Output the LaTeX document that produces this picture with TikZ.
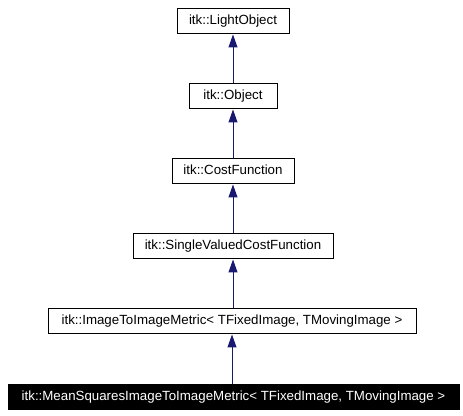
\documentclass[tikz,border=0pt]{standalone}
\usepackage{fontspec}
\setmainfont{Liberation Sans}
\usetikzlibrary{arrows.meta}
\definecolor{edgeblue}{RGB}{25,25,112}
\begin{document}
\begin{tikzpicture}[x=1pt,y=1pt,
  cls/.style={draw=black, line width=1pt, fill=white, minimum height=25pt,
    inner xsep=0pt, inner ysep=0pt, font=\fontsize{13.3}{15}\selectfont,
    text height=9.6pt, text depth=2.6pt, anchor=center},
  cur/.style={cls, fill=black, text=white},
  inh/.style={draw=edgeblue, line width=1pt, -{Triangle[length=13pt,width=9pt]}}
]
\useasboundingbox (0,0) rectangle (463,415);
\node[cls, minimum width=112pt] (lo) at (233,393.5) {itk::LightObject};
\node[cls, minimum width=88pt] (ob) at (233,318.5) {itk::Object};
\node[cls, minimum width=122pt] (cf) at (233,243.5) {itk::CostFunction};
\node[cls, minimum width=200pt] (sv) at (233,168.5) {itk::SingleValuedCostFunction};
\node[cls, minimum width=368pt] (im) at (232,93.5) {itk::ImageToImageMetric< TFixedImage, TMovingImage >};
\node[cur, minimum width=451pt] (ms) at (233.5,18.5) {itk::MeanSquaresImageToImageMetric< TFixedImage, TMovingImage >};
\draw[inh] (ob.north -| lo.south) -- (lo.south);
\draw[inh] (cf.north -| ob.south) -- (ob.south);
\draw[inh] (sv.north -| cf.south) -- (cf.south);
\draw[inh] (im.north -| sv.south) -- (sv.south);
\draw[inh] (ms.north -| im.south) -- (im.south);
\end{tikzpicture}
\end{document}
